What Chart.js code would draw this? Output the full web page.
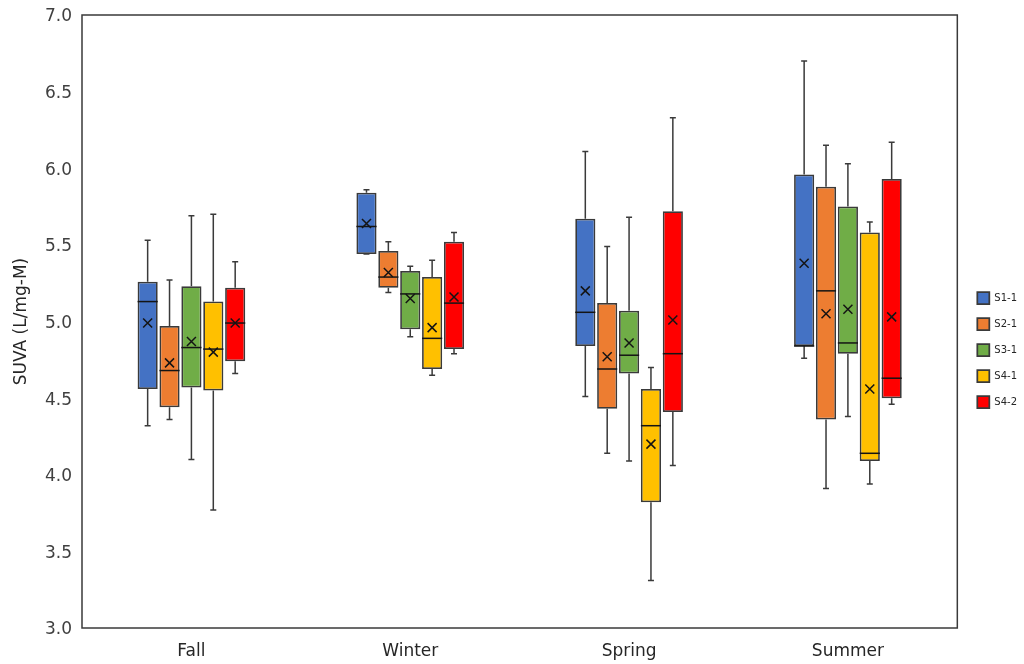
<!DOCTYPE html>
<html>
<head>
<meta charset="utf-8">
<title>SUVA by season</title>
<script src="https://cdn.jsdelivr.net/npm/chart.js@4.4.1/dist/chart.umd.min.js"></script>
<style>
	body { margin: 0; background: #fff; }
	#wrap { width: 1024px; height: 664px; }
</style>
</head>
<body>
<div id="wrap"><canvas id="myCanvas" width="1024" height="664"></canvas></div>
<script>
// seasons on the x axis
var seasons = ["Fall", "Winter", "Spring", "Summer"];
var yTicks = [3.0, 3.5, 4.0, 4.5, 5.0, 5.5, 6.0, 6.5, 7.0];

// each row: [min, q1, median, q3, max, mean] for Fall, Winter, Spring, Summer
var s1_1 = [
	[4.32, 4.56, 5.13, 5.26, 5.53, 4.99],
	[5.44, 5.44, 5.62, 5.84, 5.86, 5.64],
	[4.51, 4.84, 5.06, 5.67, 6.11, 5.20],
	[4.76, 4.84, 4.84, 5.96, 6.70, 5.38]
];
var s2_1 = [
	[4.36, 4.44, 4.68, 4.97, 5.27, 4.73],
	[5.19, 5.22, 5.29, 5.46, 5.52, 5.32],
	[4.14, 4.43, 4.69, 5.12, 5.49, 4.77],
	[3.91, 4.36, 5.20, 5.88, 6.15, 5.05]
];
var s3_1 = [
	[4.10, 4.57, 4.83, 5.23, 5.69, 4.87],
	[4.90, 4.95, 5.18, 5.33, 5.36, 5.15],
	[4.09, 4.66, 4.78, 5.07, 5.68, 4.86],
	[4.38, 4.79, 4.86, 5.75, 6.03, 5.08]
];
var s4_1 = [
	[3.77, 4.55, 4.82, 5.13, 5.70, 4.80],
	[4.65, 4.69, 4.89, 5.29, 5.40, 4.96],
	[3.31, 3.82, 4.32, 4.56, 4.70, 4.20],
	[3.94, 4.09, 4.14, 5.58, 5.65, 4.56]
];
var s4_2 = [
	[4.66, 4.74, 4.99, 5.22, 5.39, 4.99],
	[4.79, 4.82, 5.12, 5.52, 5.58, 5.16],
	[4.06, 4.41, 4.79, 5.72, 6.33, 5.01],
	[4.46, 4.50, 4.63, 5.93, 6.17, 5.03]
];

var seriesNames = ["S1-1", "S2-1", "S3-1", "S4-1", "S4-2"];
var seriesStats = [s1_1, s2_1, s3_1, s4_1, s4_2];
var seriesColors = ["#4472C4", "#ED7D31", "#70AD47", "#FFC000", "#FF0000"];

var lineColor = "#3a3a3a";
var fontFamily = "'DejaVu Sans', Verdana, sans-serif";

// boxes are floating bars q1..q3
var datasets = [];
for (var i in seriesNames) {
	datasets.push({
		label: seriesNames[i],
		data: seriesStats[i].map(function(r){ return [r[1], r[3]]; }),
		backgroundColor: seriesColors[i],
		borderColor: lineColor,
		borderWidth: 1.75,
		borderSkipped: false,
		categoryPercentage: 0.5,
		barPercentage: 0.92
	});
}

// whiskers, median line and mean cross, placed with the y scale
var boxExtras = {
	id: "boxExtras",
	afterLayout: function(chart){
		// nudge the legend a little off the frame
		chart.legend.left += 6;
		chart.legend.right += 6;
	},
	afterDatasetsDraw: function(chart){
		var ctx = chart.ctx;
		var y = chart.scales.y;
		ctx.save();
		ctx.lineWidth = 1.5;
		for (var d = 0; d < seriesStats.length; d++) {
			var meta = chart.getDatasetMeta(d);
			meta.data.forEach(function(bar, i){
				var s = seriesStats[d][i];
				var x = bar.x, half = bar.width / 2, cap = 3;
				var yMin = y.getPixelForValue(s[0]), yQ1 = y.getPixelForValue(s[1]);
				var yMed = y.getPixelForValue(s[2]), yQ3 = y.getPixelForValue(s[3]);
				var yMax = y.getPixelForValue(s[4]), yMean = y.getPixelForValue(s[5]);

				ctx.strokeStyle = lineColor;
				ctx.beginPath();
				ctx.moveTo(x, yQ3); ctx.lineTo(x, yMax);
				ctx.moveTo(x - cap, yMax); ctx.lineTo(x + cap, yMax);
				ctx.moveTo(x, yQ1); ctx.lineTo(x, yMin);
				ctx.moveTo(x - cap, yMin); ctx.lineTo(x + cap, yMin);
				ctx.stroke();

				ctx.strokeStyle = "#141414";
				ctx.beginPath();
				ctx.moveTo(x - half, yMed); ctx.lineTo(x + half, yMed);
				ctx.stroke();

				var m = 4.5;
				ctx.beginPath();
				ctx.moveTo(x - m, yMean - m); ctx.lineTo(x + m, yMean + m);
				ctx.moveTo(x - m, yMean + m); ctx.lineTo(x + m, yMean - m);
				ctx.stroke();
			});
		}
		// frame round the plot
		var a = chart.chartArea;
		ctx.strokeStyle = lineColor;
		ctx.lineWidth = 1.5;
		ctx.strokeRect(a.left, a.top, a.right - a.left, a.bottom - a.top);
		ctx.restore();
	}
};

var ctx = document.getElementById("myCanvas");

var boxChart = new Chart(ctx, {
	type: "bar",
	data: {
		labels: seasons,
		datasets: datasets
	},
	options: {
		responsive: false,
		animation: false,
		layout: { padding: { top: 15, right: 3, bottom: 0, left: 0 } },
		plugins: {
			tooltip: { enabled: false },
			legend: {
				position: "right",
				title: { display: true, text: "", font: { size: 10, lineHeight: 1 }, padding: { top: 5.5, bottom: 5.5 } },
				labels: {
					boxWidth: 12,
					boxHeight: 12,
					padding: 14,
					color: "#262626",
					font: { family: fontFamily, size: 10 }
				}
			}
		},
		scales: {
			x: {
				grid: { display: false, drawTicks: false },
				border: { display: false },
				ticks: { color: "#262626", padding: 13, font: { family: fontFamily, size: 17 } },
				afterFit: function(scale){ scale.height = 36; }
			},
			y: {
				min: 3,
				max: 7,
				grid: { display: false, drawTicks: false },
				border: { display: false },
				afterBuildTicks: function(scale){
					scale.ticks = yTicks.map(function(v){ return { value: v }; });
				},
				ticks: {
					color: "#404040",
					padding: 10,
					labelOffset: 2,
					font: { family: fontFamily, size: 17 },
					callback: function(v){ return Number(v).toFixed(1); }
				},
				title: {
					display: true,
					text: "SUVA (L/mg-M)",
					color: "#262626",
					padding: { top: 11, bottom: 0 },
					font: { family: fontFamily, size: 17 }
				},
				afterFit: function(scale){
					scale.width = 82;
					scale.paddingTop = 0;
					scale.paddingBottom = 0;
				}
			}
		}
	},
	plugins: [boxExtras]
});
</script>
</body>
</html>
